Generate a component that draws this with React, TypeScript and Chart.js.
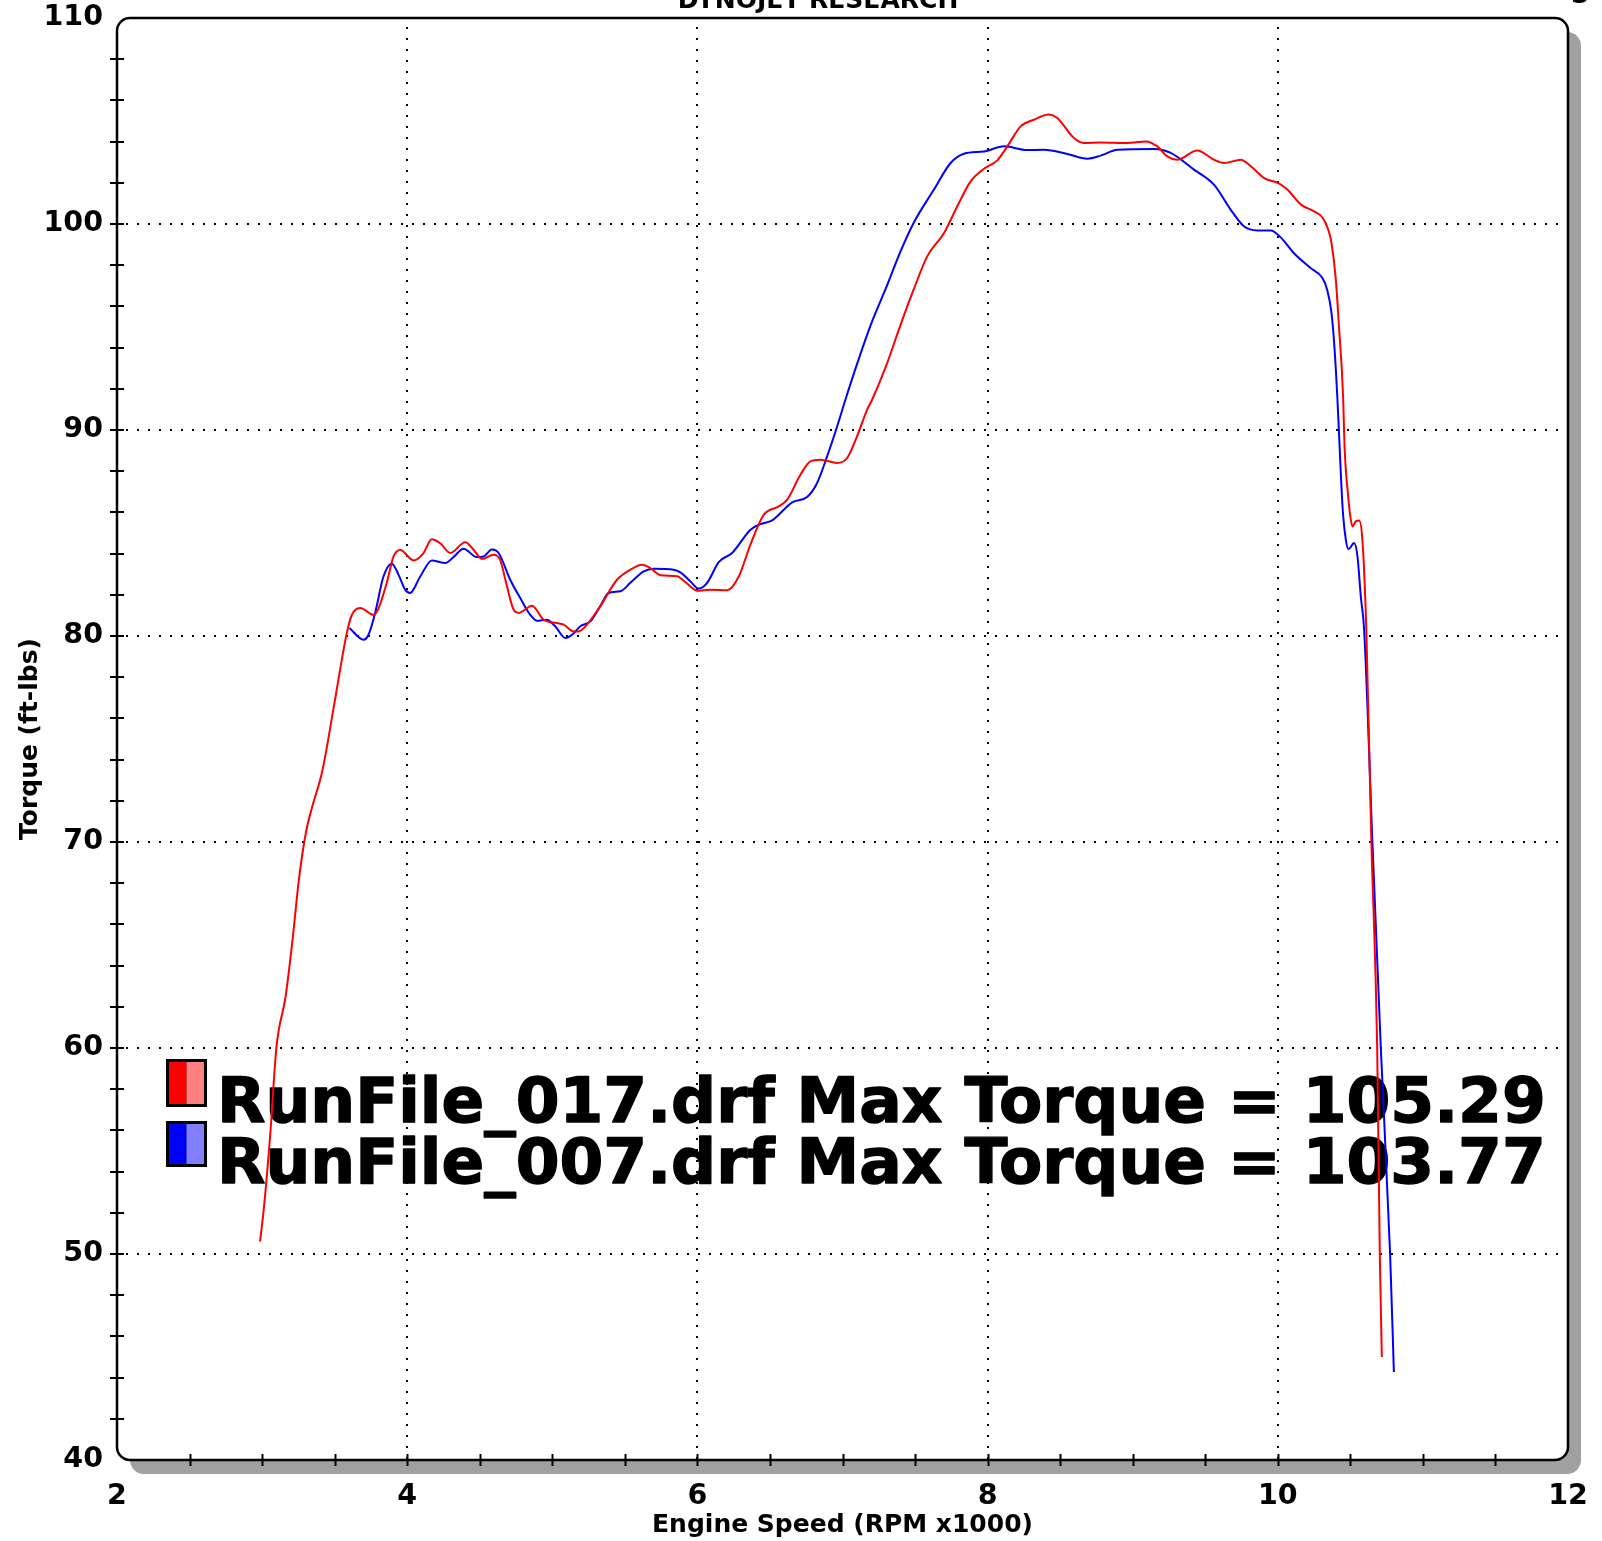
import React, { useEffect, useRef } from "react";
import { Chart, registerables } from "chart.js";

Chart.register(...registerables);

// ---- Data ----
const rpm017 = [
  2.986, 3.014, 3.056, 3.099, 3.162, 3.21, 3.254, 3.303, 3.345, 3.415, 3.5, 3.584, 3.619, 3.676, 3.768, 3.8,
  3.86, 3.906, 3.952, 4.044, 4.11, 4.17, 4.228, 4.297, 4.4, 4.457, 4.515, 4.595, 4.64, 4.688, 4.733, 4.768,
  4.86, 4.94, 5.032, 5.078, 5.147, 5.18, 5.239, 5.33, 5.446, 5.538, 5.618, 5.676, 5.745, 5.86, 5.92, 5.998,
  6.09, 6.205, 6.285, 6.366, 6.458, 6.561, 6.619, 6.71, 6.779, 6.848, 6.963, 7.032, 7.1, 7.17, 7.204, 7.3,
  7.4, 7.49, 7.584, 7.7, 7.791, 7.883, 7.975, 8.067, 8.136, 8.228, 8.319, 8.423, 8.48, 8.595, 8.663, 8.779,
  8.963, 9.09, 9.17, 9.238, 9.307, 9.445, 9.56, 9.63, 9.745, 9.814, 9.906, 10.01, 10.066, 10.16, 10.25, 10.31,
  10.355, 10.37, 10.4, 10.42, 10.45, 10.46, 10.485, 10.5, 10.515, 10.537, 10.56, 10.583, 10.61, 10.645, 10.685,
  10.703, 10.717,
];
const torque017 = [
  50.6, 52.35, 55.8, 60.05, 62.5, 65.26, 68.2, 70.5, 71.7, 73.45, 76.8, 80.15, 81.03, 81.36, 81.03, 81.3,
  82.6, 83.86, 84.17, 83.67, 84.0, 84.7, 84.5, 84.03, 84.55, 84.19, 83.74, 83.95, 83.7, 82.4, 81.28, 81.12,
  81.47, 80.79, 80.63, 80.55, 80.22, 80.22, 80.55, 81.44, 82.73, 83.22, 83.46, 83.3, 82.95, 82.9, 82.6, 82.2,
  82.25, 82.22, 82.89, 84.45, 85.89, 86.29, 86.62, 87.83, 88.48, 88.56, 88.4, 88.64, 89.69, 90.99, 91.47, 93.1,
  95.1, 96.81, 98.43, 99.56, 100.86, 102.07, 102.68, 103.09, 103.77, 104.74, 105.06, 105.31, 105.15, 104.17, 103.93, 103.96,
  103.93, 104.01, 103.77, 103.28, 103.12, 103.57, 103.12, 102.96, 103.12, 102.8, 102.23, 101.96, 101.67, 100.94, 100.61, 100.29,
  99.56, 99.08, 97.3, 95.19, 91.63, 89.2, 86.78, 85.8, 85.32, 85.56, 85.61, 84.67, 80.3, 70.0, 60.0,
  50.0, 45.0,
];

const rpm007 = [
  3.602, 3.699, 3.733, 3.779, 3.837, 3.894, 3.94, 3.986, 4.02, 4.09, 4.17, 4.262, 4.319, 4.388, 4.48, 4.526,
  4.584, 4.63, 4.71, 4.779, 4.848, 4.894, 4.963, 5.02, 5.09, 5.136, 5.193, 5.262, 5.33, 5.388, 5.469, 5.538,
  5.63, 5.7, 5.837, 5.883, 5.952, 6.009, 6.067, 6.147, 6.239, 6.366, 6.434, 6.515, 6.653, 6.756, 6.825, 6.894,
  6.963, 7.02, 7.1, 7.2, 7.3, 7.4, 7.49, 7.63, 7.745, 7.837, 7.975, 8.113, 8.273, 8.388, 8.549, 8.687,
  8.779, 8.894, 9.147, 9.262, 9.422, 9.56, 9.676, 9.768, 9.86, 9.952, 10.02, 10.11, 10.226, 10.308, 10.34, 10.37,
  10.39, 10.41, 10.426, 10.446, 10.469, 10.488, 10.526, 10.549, 10.572, 10.595, 10.652, 10.71, 10.774, 10.8,
];
const torque007 = [
  80.39, 79.82, 80.06, 81.12, 82.9, 83.51, 82.98, 82.25, 82.09, 82.89, 83.67, 83.54, 83.83, 84.24, 83.83, 83.86,
  84.2, 84.03, 82.73, 81.84, 81.03, 80.74, 80.79, 80.47, 79.9, 80.06, 80.47, 80.71, 81.44, 82.09, 82.17, 82.58,
  83.14, 83.27, 83.22, 83.09, 82.65, 82.3, 82.58, 83.59, 84.03, 85.16, 85.43, 85.61, 86.49, 86.75, 87.43, 88.72,
  90.17, 91.47, 93.2, 95.2, 96.9, 98.67, 100.05, 101.67, 102.96, 103.41, 103.52, 103.77, 103.59, 103.6, 103.4, 103.17,
  103.32, 103.6, 103.64, 103.45, 102.64, 101.91, 100.69, 99.88, 99.69, 99.69, 99.35, 98.59, 97.86, 97.38, 96.81, 95.68,
  94.06, 91.63, 89.2, 86.29, 84.67, 84.22, 84.51, 83.86, 81.92, 80.3, 70.0, 60.0, 50.0, 44.27,
];

const xTickValues = [2, 4, 6, 8, 10, 12];
const yTickValues = [40, 50, 60, 70, 80, 90, 100, 110];
const legendLabels = [
  "RunFile_017.drf Max Torque = 105.29",
  "RunFile_007.drf Max Torque = 103.77",
];
const xTitle = "Engine Speed (RPM x1000)";
const yTitle = "Torque (ft-lbs)";
const topTitle = "DYNOJET RESEARCH";

// ---- Styles ----
const FONT = "'DejaVu Sans', Verdana, sans-serif";
const seriesColors = ["#ff0000", "#0000ff"];
const swatchLight = ["#ff8080", "#8080ff"];

function roundRectPath(ctx: CanvasRenderingContext2D, x: number, y: number, w: number, h: number, r: number) {
  ctx.beginPath();
  ctx.moveTo(x + r, y);
  ctx.lineTo(x + w - r, y);
  ctx.arcTo(x + w, y, x + w, y + r, r);
  ctx.lineTo(x + w, y + h - r);
  ctx.arcTo(x + w, y + h, x + w - r, y + h, r);
  ctx.lineTo(x + r, y + h);
  ctx.arcTo(x, y + h, x, y + h - r, r);
  ctx.lineTo(x, y + r);
  ctx.arcTo(x, y, x + r, y, r);
  ctx.closePath();
}

const dynoPlugin = {
  id: "dynoFrame",
  beforeDraw(chart: any) {
    const { ctx, chartArea: a } = chart;
    ctx.save();
    ctx.fillStyle = "#ffffff";
    ctx.fillRect(0, 0, chart.width, chart.height);
    const w = a.right - a.left;
    const h = a.bottom - a.top;
    roundRectPath(ctx, a.left + 13, a.top + 14, w, h, 14);
    ctx.fillStyle = "#a0a0a0";
    ctx.fill();
    roundRectPath(ctx, a.left, a.top, w, h, 13);
    ctx.fillStyle = "#ffffff";
    ctx.fill();
    ctx.restore();
  },
  beforeDatasetsDraw(chart: any) {
    const { ctx, chartArea: a, scales } = chart;
    const xs = scales.x;
    const ys = scales.y;
    ctx.save();
    // dotted grid
    ctx.strokeStyle = "#000";
    ctx.lineWidth = 2;
    ctx.setLineDash([2, 9]);
    xTickValues.slice(1, -1).forEach((v) => {
      const px = Math.round(xs.getPixelForValue(v));
      ctx.beginPath();
      ctx.moveTo(px, a.top + 9);
      ctx.lineTo(px, a.bottom);
      ctx.stroke();
    });
    yTickValues.slice(1, -1).forEach((v) => {
      const py = Math.round(ys.getPixelForValue(v));
      ctx.beginPath();
      ctx.moveTo(a.left + 9, py);
      ctx.lineTo(a.right - 4, py);
      ctx.stroke();
    });
    ctx.setLineDash([]);

    // legend
    const baselines = [1122, 1183];
    ctx.font = `bold 63px ${FONT}`;
    ctx.textBaseline = "alphabetic";
    ctx.textAlign = "left";
    ctx.lineJoin = "round";
    legendLabels.forEach((label, i) => {
      const top = i === 0 ? 1059 : 1121;
      const bx = 166;
      const bw = 41;
      const bh = i === 0 ? 48 : 46;
      ctx.fillStyle = "#000";
      ctx.fillRect(bx, top, bw, bh);
      ctx.fillStyle = seriesColors[i];
      ctx.fillRect(bx + 3, top + 3, (bw - 6) / 2, bh - 6);
      ctx.fillStyle = swatchLight[i];
      ctx.fillRect(bx + 3 + (bw - 6) / 2, top + 3, (bw - 6) / 2, bh - 6);
      ctx.fillStyle = "#000";
      ctx.strokeStyle = "#000";
      ctx.lineWidth = 1.4;
      ctx.fillText(label, 217, baselines[i]);
      ctx.strokeText(label, 217, baselines[i]);
    });
    ctx.restore();
  },
  afterDatasetsDraw(chart: any) {
    const { ctx, chartArea: a, scales } = chart;
    const xs = scales.x;
    const ys = scales.y;
    ctx.save();
    // frame
    roundRectPath(ctx, a.left, a.top, a.right - a.left, a.bottom - a.top, 13);
    ctx.strokeStyle = "#000";
    ctx.lineWidth = 2.5;
    ctx.stroke();
    // tick marks
    ctx.lineWidth = 2;
    const xMin = xTickValues[0];
    const xMax = xTickValues[xTickValues.length - 1];
    for (let v = xMin + 0.5; v < xMax - 0.01; v += 0.5) {
      const px = Math.round(xs.getPixelForValue(v)) + 0.5;
      ctx.beginPath();
      ctx.moveTo(px, a.bottom - 6);
      ctx.lineTo(px, a.bottom + 6);
      ctx.stroke();
    }
    const yMin = yTickValues[0];
    const yMax = yTickValues[yTickValues.length - 1];
    for (let v = yMin + 2; v < yMax - 0.01; v += 2) {
      const py = Math.round(ys.getPixelForValue(v));
      ctx.beginPath();
      ctx.moveTo(a.left - 7, py);
      ctx.lineTo(a.left + 7, py);
      ctx.stroke();
    }
    ctx.restore();
  },
  afterDraw(chart: any) {
    const { ctx } = chart;
    ctx.save();
    ctx.fillStyle = "#000";
    ctx.font = `bold 25px ${FONT}`;
    ctx.textAlign = "center";
    ctx.textBaseline = "alphabetic";
    ctx.fillText(topTitle, 818, 8);
    ctx.fillText("S", 1580, 3);
    ctx.restore();
  },
};

export default function App() {
  const ref = useRef<HTMLCanvasElement | null>(null);

  useEffect(() => {
    if (!ref.current) return;
    const chart = new Chart(ref.current, {
      type: "line",
      data: {
        datasets: [
          {
            label: legendLabels[0],
            data: rpm017.map((x, i) => ({ x, y: torque017[i] })),
            borderColor: seriesColors[0],
            backgroundColor: seriesColors[0],
            borderWidth: 2,
            pointRadius: 0,
            cubicInterpolationMode: "monotone",
            fill: false,
          },
          {
            label: legendLabels[1],
            data: rpm007.map((x, i) => ({ x, y: torque007[i] })),
            borderColor: seriesColors[1],
            backgroundColor: seriesColors[1],
            borderWidth: 2,
            pointRadius: 0,
            cubicInterpolationMode: "monotone",
            fill: false,
          },
        ],
      },
      options: {
        responsive: false,
        animation: false,
        events: [],
        layout: { padding: { top: 18, right: 34, bottom: 0, left: 0 } },
        plugins: {
          legend: { display: false },
          tooltip: { enabled: false },
          title: { display: false },
        },
        scales: {
          x: {
            type: "linear",
            min: xTickValues[0],
            max: xTickValues[xTickValues.length - 1],
            grid: { display: false, drawTicks: false },
            border: { display: false },
            afterBuildTicks: (scale: any) => {
              scale.ticks = xTickValues.map((value) => ({ value }));
            },
            ticks: {
              color: "#000",
              padding: 19,
              maxRotation: 0,
              autoSkip: false,
              font: { family: FONT, weight: "bold", size: 28.5 },
            },
            title: {
              display: true,
              text: xTitle,
              color: "#000",
              padding: { top: 0, bottom: 1 },
              font: { family: FONT, weight: "bold", size: 25 },
            },
            afterFit: (scale: any) => {
              scale.height = 81;
              scale.paddingLeft = 0;
              scale.paddingRight = 0;
            },
          },
          y: {
            type: "linear",
            min: yTickValues[0],
            max: yTickValues[yTickValues.length - 1],
            grid: { display: false, drawTicks: false },
            border: { display: false },
            afterBuildTicks: (scale: any) => {
              scale.ticks = yTickValues.map((value) => ({ value }));
            },
            ticks: {
              color: "#000",
              padding: 14,
              autoSkip: false,
              font: { family: FONT, weight: "bold", size: 28.5 },
            },
            title: {
              display: true,
              text: yTitle,
              color: "#000",
              padding: { top: 15, bottom: 0 },
              font: { family: FONT, weight: "bold", size: 25 },
            },
            afterFit: (scale: any) => {
              scale.width = 117;
              scale.paddingTop = 0;
              scale.paddingBottom = 0;
            },
          },
        },
      } as any,
      plugins: [dynoPlugin],
    });
    return () => chart.destroy();
  }, []);

  return (
    <canvas
      ref={ref}
      width={1602}
      height={1541}
      style={{ position: "absolute", left: 0, top: 0, display: "block" }}
    />
  );
}
